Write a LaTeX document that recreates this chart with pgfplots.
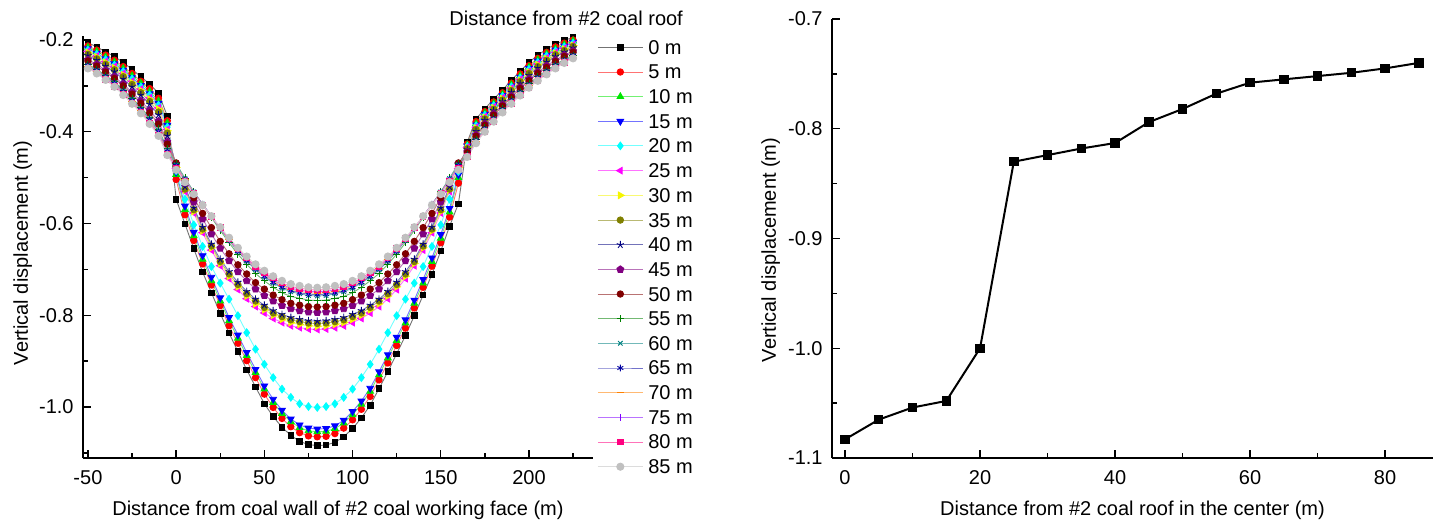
\documentclass[border=0pt]{standalone}
\usepackage{fontspec}
\setmainfont{Liberation Sans}
\usepackage{pgfplots}
\usepackage{pgfplotstable}
\pgfplotsset{compat=1.18}
\usetikzlibrary{plotmarks}

\definecolor{c0}{RGB}{0,0,0}
\definecolor{c5}{RGB}{255,0,0}
\definecolor{c10}{RGB}{0,230,0}
\definecolor{c15}{RGB}{0,0,255}
\definecolor{c20}{RGB}{0,255,255}
\definecolor{c25}{RGB}{255,0,255}
\definecolor{c30}{RGB}{245,245,0}
\definecolor{c35}{RGB}{128,128,0}
\definecolor{c40}{RGB}{0,0,128}
\definecolor{c45}{RGB}{128,0,128}
\definecolor{c50}{RGB}{128,0,0}
\definecolor{c55}{RGB}{0,128,0}
\definecolor{c60}{RGB}{0,128,128}
\definecolor{c65}{RGB}{0,0,160}
\definecolor{c70}{RGB}{255,128,0}
\definecolor{c75}{RGB}{128,0,255}
\definecolor{c80}{RGB}{255,0,128}
\definecolor{c85}{RGB}{192,192,192}

\pgfplotstableread{
x c0 c5 c10 c15 c20 c25 c30 c35 c40 c45 c50 c55 c60 c65 c70 c75 c80 c85
-50 -0.206 -0.213 -0.216 -0.219 -0.222 -0.225 -0.227 -0.231 -0.234 -0.243 -0.246 -0.253 -0.255 -0.256 -0.258 -0.260 -0.261 -0.262
-45 -0.215 -0.222 -0.225 -0.229 -0.231 -0.235 -0.237 -0.241 -0.244 -0.253 -0.257 -0.264 -0.266 -0.267 -0.269 -0.271 -0.272 -0.273
-40 -0.226 -0.233 -0.237 -0.241 -0.243 -0.247 -0.249 -0.253 -0.257 -0.266 -0.270 -0.277 -0.279 -0.281 -0.283 -0.285 -0.286 -0.287
-35 -0.236 -0.244 -0.248 -0.252 -0.255 -0.258 -0.261 -0.265 -0.269 -0.280 -0.284 -0.291 -0.293 -0.295 -0.297 -0.299 -0.301 -0.302
-30 -0.249 -0.258 -0.262 -0.266 -0.269 -0.273 -0.276 -0.280 -0.285 -0.296 -0.300 -0.309 -0.311 -0.313 -0.315 -0.317 -0.319 -0.320
-25 -0.264 -0.273 -0.278 -0.282 -0.285 -0.290 -0.293 -0.297 -0.302 -0.314 -0.318 -0.327 -0.329 -0.332 -0.334 -0.336 -0.338 -0.339
-20 -0.280 -0.290 -0.294 -0.299 -0.302 -0.307 -0.310 -0.315 -0.320 -0.333 -0.338 -0.347 -0.350 -0.352 -0.354 -0.357 -0.358 -0.360
-15 -0.296 -0.306 -0.312 -0.317 -0.320 -0.326 -0.329 -0.334 -0.340 -0.353 -0.359 -0.369 -0.372 -0.374 -0.377 -0.380 -0.381 -0.383
-10 -0.316 -0.327 -0.333 -0.338 -0.342 -0.348 -0.351 -0.357 -0.363 -0.377 -0.383 -0.394 -0.397 -0.400 -0.403 -0.405 -0.407 -0.409
-5 -0.366 -0.376 -0.381 -0.386 -0.390 -0.395 -0.398 -0.403 -0.409 -0.422 -0.427 -0.437 -0.440 -0.443 -0.445 -0.448 -0.449 -0.451
0 -0.547 -0.504 -0.493 -0.488 -0.485 -0.480 -0.478 -0.476 -0.472 -0.470 -0.468 -0.470 -0.472 -0.474 -0.476 -0.478 -0.480 -0.483
5 -0.601 -0.581 -0.570 -0.562 -0.547 -0.530 -0.527 -0.525 -0.520 -0.512 -0.507 -0.501 -0.502 -0.504 -0.505 -0.507 -0.508 -0.510
10 -0.655 -0.637 -0.627 -0.619 -0.603 -0.577 -0.574 -0.570 -0.566 -0.553 -0.544 -0.531 -0.531 -0.532 -0.533 -0.534 -0.535 -0.536
15 -0.706 -0.688 -0.678 -0.670 -0.650 -0.620 -0.616 -0.612 -0.608 -0.590 -0.578 -0.559 -0.558 -0.558 -0.559 -0.559 -0.560 -0.560
20 -0.751 -0.734 -0.725 -0.717 -0.694 -0.658 -0.653 -0.649 -0.645 -0.623 -0.609 -0.587 -0.584 -0.584 -0.585 -0.585 -0.584 -0.584
25 -0.796 -0.779 -0.769 -0.762 -0.730 -0.692 -0.687 -0.683 -0.678 -0.654 -0.639 -0.615 -0.611 -0.611 -0.610 -0.610 -0.609 -0.608
30 -0.839 -0.823 -0.812 -0.805 -0.765 -0.720 -0.715 -0.710 -0.705 -0.681 -0.666 -0.642 -0.637 -0.636 -0.635 -0.634 -0.633 -0.631
35 -0.879 -0.861 -0.850 -0.843 -0.801 -0.744 -0.738 -0.733 -0.728 -0.705 -0.690 -0.667 -0.661 -0.660 -0.658 -0.657 -0.655 -0.653
40 -0.919 -0.899 -0.888 -0.881 -0.838 -0.764 -0.758 -0.753 -0.748 -0.725 -0.710 -0.689 -0.682 -0.681 -0.679 -0.677 -0.675 -0.672
45 -0.956 -0.936 -0.925 -0.918 -0.874 -0.781 -0.775 -0.769 -0.765 -0.743 -0.729 -0.709 -0.701 -0.699 -0.697 -0.695 -0.693 -0.689
50 -0.993 -0.972 -0.961 -0.954 -0.907 -0.795 -0.788 -0.783 -0.778 -0.757 -0.743 -0.725 -0.717 -0.715 -0.712 -0.710 -0.707 -0.703
55 -1.021 -1.001 -0.990 -0.983 -0.936 -0.807 -0.800 -0.795 -0.790 -0.769 -0.756 -0.739 -0.730 -0.728 -0.725 -0.723 -0.719 -0.715
60 -1.044 -1.025 -1.014 -1.007 -0.961 -0.816 -0.809 -0.803 -0.798 -0.779 -0.766 -0.751 -0.741 -0.739 -0.736 -0.733 -0.730 -0.725
65 -1.062 -1.043 -1.032 -1.026 -0.979 -0.823 -0.816 -0.810 -0.805 -0.786 -0.774 -0.759 -0.749 -0.746 -0.743 -0.741 -0.737 -0.732
70 -1.075 -1.056 -1.045 -1.039 -0.993 -0.827 -0.820 -0.814 -0.809 -0.790 -0.778 -0.763 -0.753 -0.751 -0.748 -0.745 -0.741 -0.736
75 -1.082 -1.063 -1.052 -1.046 -0.999 -0.830 -0.823 -0.817 -0.812 -0.793 -0.781 -0.767 -0.757 -0.754 -0.751 -0.748 -0.744 -0.739
80 -1.084 -1.065 -1.054 -1.048 -1.001 -0.831 -0.824 -0.818 -0.813 -0.794 -0.782 -0.768 -0.758 -0.755 -0.752 -0.749 -0.745 -0.740
85 -1.083 -1.064 -1.053 -1.047 -0.999 -0.830 -0.823 -0.817 -0.812 -0.793 -0.781 -0.767 -0.757 -0.754 -0.751 -0.748 -0.744 -0.739
90 -1.077 -1.058 -1.047 -1.041 -0.993 -0.827 -0.820 -0.814 -0.809 -0.790 -0.778 -0.763 -0.753 -0.751 -0.748 -0.745 -0.741 -0.736
95 -1.065 -1.046 -1.035 -1.029 -0.979 -0.823 -0.816 -0.810 -0.805 -0.786 -0.774 -0.759 -0.749 -0.746 -0.743 -0.741 -0.737 -0.732
100 -1.047 -1.028 -1.017 -1.010 -0.961 -0.816 -0.809 -0.803 -0.798 -0.779 -0.766 -0.751 -0.741 -0.739 -0.736 -0.733 -0.730 -0.725
105 -1.024 -1.005 -0.994 -0.987 -0.936 -0.807 -0.800 -0.795 -0.790 -0.769 -0.756 -0.739 -0.730 -0.728 -0.725 -0.723 -0.719 -0.715
110 -0.996 -0.977 -0.966 -0.959 -0.907 -0.795 -0.788 -0.783 -0.778 -0.757 -0.743 -0.725 -0.717 -0.715 -0.712 -0.710 -0.707 -0.703
115 -0.960 -0.941 -0.930 -0.923 -0.874 -0.781 -0.775 -0.769 -0.765 -0.743 -0.729 -0.709 -0.701 -0.699 -0.697 -0.695 -0.693 -0.689
120 -0.923 -0.904 -0.893 -0.886 -0.838 -0.764 -0.758 -0.753 -0.748 -0.725 -0.710 -0.689 -0.682 -0.681 -0.679 -0.677 -0.675 -0.672
125 -0.884 -0.866 -0.855 -0.848 -0.801 -0.744 -0.738 -0.733 -0.728 -0.705 -0.690 -0.667 -0.661 -0.660 -0.658 -0.657 -0.655 -0.653
130 -0.844 -0.828 -0.817 -0.810 -0.765 -0.720 -0.715 -0.710 -0.705 -0.681 -0.666 -0.642 -0.637 -0.636 -0.635 -0.634 -0.633 -0.631
135 -0.801 -0.784 -0.774 -0.767 -0.730 -0.692 -0.687 -0.683 -0.678 -0.654 -0.639 -0.615 -0.611 -0.611 -0.610 -0.610 -0.609 -0.608
140 -0.756 -0.739 -0.730 -0.722 -0.694 -0.658 -0.653 -0.649 -0.645 -0.623 -0.609 -0.587 -0.584 -0.584 -0.585 -0.585 -0.584 -0.584
145 -0.711 -0.693 -0.683 -0.675 -0.650 -0.620 -0.616 -0.612 -0.608 -0.590 -0.578 -0.559 -0.558 -0.558 -0.559 -0.559 -0.560 -0.560
150 -0.660 -0.642 -0.632 -0.624 -0.603 -0.577 -0.574 -0.570 -0.566 -0.553 -0.544 -0.531 -0.531 -0.532 -0.533 -0.534 -0.535 -0.536
155 -0.606 -0.586 -0.575 -0.567 -0.547 -0.530 -0.527 -0.525 -0.520 -0.512 -0.507 -0.501 -0.502 -0.504 -0.505 -0.507 -0.508 -0.510
160 -0.557 -0.512 -0.500 -0.494 -0.487 -0.480 -0.478 -0.476 -0.472 -0.470 -0.468 -0.470 -0.472 -0.474 -0.476 -0.478 -0.480 -0.483
165 -0.423 -0.427 -0.429 -0.431 -0.432 -0.434 -0.435 -0.437 -0.439 -0.444 -0.446 -0.450 -0.451 -0.452 -0.453 -0.454 -0.454 -0.455
170 -0.372 -0.378 -0.382 -0.385 -0.387 -0.390 -0.392 -0.395 -0.399 -0.407 -0.410 -0.417 -0.418 -0.420 -0.421 -0.423 -0.424 -0.425
175 -0.350 -0.356 -0.359 -0.362 -0.364 -0.367 -0.369 -0.372 -0.375 -0.383 -0.386 -0.392 -0.394 -0.395 -0.397 -0.398 -0.399 -0.400
180 -0.329 -0.335 -0.338 -0.341 -0.343 -0.346 -0.348 -0.351 -0.354 -0.361 -0.364 -0.370 -0.372 -0.373 -0.375 -0.376 -0.377 -0.378
185 -0.309 -0.315 -0.318 -0.321 -0.323 -0.326 -0.328 -0.331 -0.334 -0.341 -0.344 -0.350 -0.352 -0.353 -0.355 -0.356 -0.357 -0.358
190 -0.288 -0.294 -0.297 -0.300 -0.302 -0.305 -0.307 -0.310 -0.314 -0.322 -0.325 -0.331 -0.332 -0.334 -0.335 -0.337 -0.338 -0.339
195 -0.268 -0.274 -0.278 -0.281 -0.283 -0.286 -0.288 -0.291 -0.295 -0.303 -0.306 -0.313 -0.314 -0.316 -0.317 -0.319 -0.320 -0.321
200 -0.249 -0.256 -0.259 -0.262 -0.264 -0.268 -0.270 -0.273 -0.277 -0.285 -0.289 -0.295 -0.297 -0.299 -0.300 -0.302 -0.303 -0.304
205 -0.233 -0.240 -0.243 -0.246 -0.249 -0.252 -0.254 -0.258 -0.261 -0.270 -0.273 -0.280 -0.282 -0.283 -0.285 -0.287 -0.288 -0.289
210 -0.220 -0.227 -0.230 -0.233 -0.235 -0.239 -0.241 -0.244 -0.248 -0.256 -0.260 -0.266 -0.268 -0.270 -0.271 -0.273 -0.274 -0.275
215 -0.209 -0.215 -0.219 -0.222 -0.224 -0.227 -0.229 -0.232 -0.236 -0.244 -0.247 -0.254 -0.255 -0.257 -0.258 -0.260 -0.261 -0.262
220 -0.201 -0.207 -0.210 -0.213 -0.215 -0.218 -0.220 -0.223 -0.226 -0.233 -0.236 -0.242 -0.244 -0.245 -0.247 -0.248 -0.249 -0.250
225 -0.194 -0.200 -0.202 -0.205 -0.207 -0.210 -0.212 -0.214 -0.217 -0.224 -0.227 -0.233 -0.234 -0.235 -0.237 -0.238 -0.239 -0.240
}\disp

\pgfplotstableread{
d v
0 -1.083
5 -1.065
10 -1.054
15 -1.048
20 -1.000
25 -0.830
30 -0.824
35 -0.818
40 -0.813
45 -0.794
50 -0.782
55 -0.768
60 -0.758
65 -0.755
70 -0.752
75 -0.749
80 -0.745
85 -0.740
}\centerdata

\pgfplotsset{
  myaxis/.style={
    scale only axis, anchor=south west, clip=false,
    axis lines*=left,
    axis line style={line width=0.65pt, black},
    tick align=inside,
    major tick length=3.8pt, minor tick length=2.3pt,
    every tick/.style={line width=0.65pt, black},
    /pgf/number format/assume math mode=true,
    tick label style={font=\fontsize{10}{12}\selectfont},
    label style={font=\fontsize{10}{12}\selectfont},
    xticklabel style={anchor=north, inner sep=0pt, yshift=-6pt},
    yticklabel style={anchor=east, inner sep=0pt, xshift=-4.5pt,
      /pgf/number format/fixed, /pgf/number format/fixed zerofill,
      /pgf/number format/precision=1},
  },
  sty/.style n args={4}{#1!55!white, line width=0.45pt, mark=#2, mark size=#3,
      mark options={draw=#1, fill=#1, solid, line width=0.45pt, rotate=#4}},
}

\begin{document}
\begin{tikzpicture}
\path[use as bounding box] (0,0) rectangle (719pt,260pt);

\begin{axis}[myaxis,
  at={(41.5pt,31pt)}, width=255pt, height=211pt,
  xmin=-52.8, xmax=236.3, ymin=-1.1112, ymax=-0.1913,
  xtick={-50,0,50,100,150,200}, minor xtick={-25,25,75,125,175,225},
  ytick={-1.0,-0.8,-0.6,-0.4,-0.2}, minor ytick={-1.1,-0.9,-0.7,-0.5,-0.3},
  xlabel={Distance from coal wall of \#2 coal working face (m)},
  ylabel={Vertical displacement (m)},
  xlabel style={at={(axis description cs:0.5,-0.1374)}, anchor=base, inner sep=0pt},
  ylabel style={at={(axis description cs:-0.1373,0.486)}, anchor=north, inner sep=0pt},
  legend style={at={(rel axis cs:1.0078,0.9905)}, anchor=north west, draw=none, fill=none,
    inner sep=0pt, row sep=5.38pt, column sep=2.5pt,
    font=\fontsize{10}{12}\selectfont, nodes={inner sep=0pt, text depth=0pt}},
  legend cell align=left,
  legend image code/.code={\draw[mark repeat=2,mark phase=2] plot coordinates {(0pt,0pt) (11.25pt,0pt) (22.5pt,0pt)};},
]
\addplot[sty={c0}{square*}{1.4pt}{0}] table[x=x,y=c0]{\disp};
\addlegendentry{0 m}
\addplot[sty={c5}{*}{1.6pt}{0}] table[x=x,y=c5]{\disp};
\addlegendentry{5 m}
\addplot[sty={c10}{triangle*}{1.9pt}{0}] table[x=x,y=c10]{\disp};
\addlegendentry{10 m}
\addplot[sty={c15}{triangle*}{1.9pt}{180}] table[x=x,y=c15]{\disp};
\addlegendentry{15 m}
\addplot[sty={c20}{diamond*}{1.9pt}{0}] table[x=x,y=c20]{\disp};
\addlegendentry{20 m}
\addplot[sty={c25}{triangle*}{1.9pt}{90}] table[x=x,y=c25]{\disp};
\addlegendentry{25 m}
\addplot[sty={c30}{triangle*}{1.9pt}{-90}] table[x=x,y=c30]{\disp};
\addlegendentry{30 m}
\addplot[sty={c35}{*}{1.6pt}{0}] table[x=x,y=c35]{\disp};
\addlegendentry{35 m}
\addplot[sty={c40}{star}{1.9pt}{0}] table[x=x,y=c40]{\disp};
\addlegendentry{40 m}
\addplot[sty={c45}{pentagon*}{1.8pt}{0}] table[x=x,y=c45]{\disp};
\addlegendentry{45 m}
\addplot[sty={c50}{*}{1.6pt}{0}] table[x=x,y=c50]{\disp};
\addlegendentry{50 m}
\addplot[sty={c55}{+}{1.8pt}{0}] table[x=x,y=c55]{\disp};
\addlegendentry{55 m}
\addplot[sty={c60}{x}{1.6pt}{0}] table[x=x,y=c60]{\disp};
\addlegendentry{60 m}
\addplot[sty={c65}{asterisk}{1.7pt}{0}] table[x=x,y=c65]{\disp};
\addlegendentry{65 m}
\addplot[sty={c70}{-}{1.8pt}{0}] table[x=x,y=c70]{\disp};
\addlegendentry{70 m}
\addplot[sty={c75}{|}{1.8pt}{0}] table[x=x,y=c75]{\disp};
\addlegendentry{75 m}
\addplot[sty={c80}{square*}{1.4pt}{0}] table[x=x,y=c80]{\disp};
\addlegendentry{80 m}
\addplot[sty={c85}{*}{1.8pt}{0}] table[x=x,y=c85]{\disp};
\addlegendentry{85 m}
\end{axis}

\node[anchor=base west, inner sep=0pt, font=\fontsize{10}{12}\selectfont] at (224.5pt,247.2pt) {Distance from \#2 coal roof};

\begin{axis}[myaxis,
  at={(416pt,31pt)}, width=300.5pt, height=219.5pt,
  xmin=-1.93, xmax=87.1, ymin=-1.1, ymax=-0.7,
  xtick={0,20,40,60,80}, minor xtick={10,30,50,70},
  ytick={-1.1,-1.0,-0.9,-0.8,-0.7}, minor ytick={-1.05,-0.95,-0.85,-0.75},
  xlabel={Distance from \#2 coal roof in the center (m)},
  ylabel={Vertical displacement (m)},
  xlabel style={at={(axis description cs:0.5,-0.1321)}, anchor=base, inner sep=0pt},
  ylabel style={at={(axis description cs:-0.1181,0.474)}, anchor=north, inner sep=0pt},
]
\addplot[black, line width=1pt, mark=square*, mark size=1.85pt, mark options={solid}] table[x=d,y=v]{\centerdata};
\end{axis}
\end{tikzpicture}
\end{document}
